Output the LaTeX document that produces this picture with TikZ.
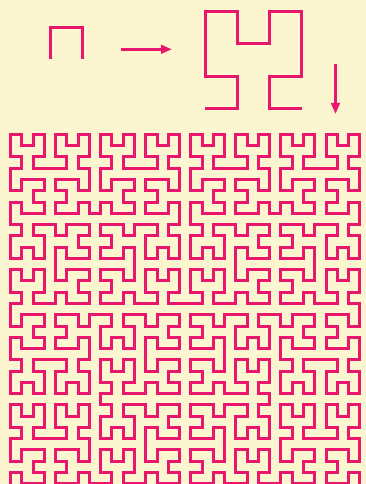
\documentclass[tikz,border=0pt]{standalone}
\usetikzlibrary{lindenmayersystems,arrows.meta}
\pgfdeclarelindenmayersystem{Hilbert curve}{
  \rule{L -> +RF-LFL-FR+}
  \rule{R -> -LF+RFR+FL-}}
\definecolor{bg}{RGB}{251,246,208}
\definecolor{ink}{RGB}{232,22,108}
\begin{document}
\begin{tikzpicture}[x=1pt,y=1pt,
  curve/.style={draw=ink, line width=3pt, line join=miter, line cap=butt},
  arrowline/.style={draw=ink, line width=2.8pt, -{Triangle[length=11pt,width=8.5pt]}}]
\fill[bg] (0,0) rectangle (366,484);
\useasboundingbox (0,0) rectangle (366,484);
\clip (0,0) rectangle (366,484);
% order 1
\begin{scope}[shift={(50,424.7)}]
\draw[curve, lindenmayer system={Hilbert curve, axiom=L, order=1, step=32pt, angle=90}] lindenmayer system;
\end{scope}
% order 2
\begin{scope}[shift={(205,375.7)}]
\draw[curve, lindenmayer system={Hilbert curve, axiom=L, order=2, step=32.2pt, angle=90}] lindenmayer system;
\end{scope}
% order 5
\begin{scope}[shift={(10.5,0.2)}]
\draw[curve, lindenmayer system={Hilbert curve, axiom=L, order=5, step=11.27pt, angle=90}] lindenmayer system;
\end{scope}
% arrows
\coordinate (ra) at (120.7,434.7);
\coordinate (rb) at (172,434.7);
\coordinate (da) at (335.5,420);
\coordinate (db) at (335.5,370);
\draw[arrowline] (ra) -- (rb);
\draw[arrowline] (da) -- (db);
\end{tikzpicture}
\end{document}
